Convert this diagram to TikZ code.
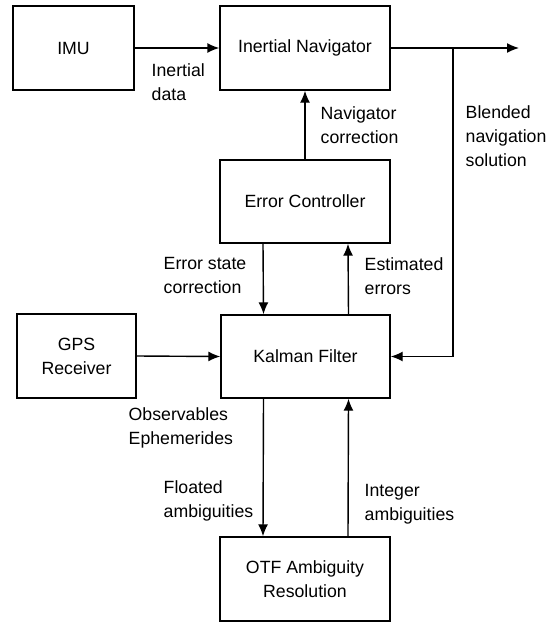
\documentclass[tikz,border=0pt]{standalone}
\usepackage{fontspec}
\setmainfont{Liberation Sans}
\usetikzlibrary{arrows.meta}
\usetikzlibrary{calc}

\begin{document}
\begin{tikzpicture}[x=1pt,y=-1pt,line width=1.4pt,
  blk/.style={draw,minimum width=170pt,minimum height=84pt,align=center,font=\fontsize{17.7}{24}\selectfont},
  lbl/.style={anchor=west,align=left,inner sep=0pt,font=\fontsize{17.7}{24}\selectfont},
  flow/.style={-{Latex[length=12pt,width=10pt]}}]
\useasboundingbox (0,0) rectangle (548,624);
%% blocks
\node[blk,minimum width=121pt] (imu) at (73.5,48) {IMU};
\node[blk] (nav) at (305,48) {Inertial Navigator};
\node[blk,minimum height=83pt] (ctrl) at (305,201.5) {Error Controller};
\node[blk,minimum width=169pt,minimum height=83pt] (kf) at (305.5,356.5) {Kalman Filter};
\node[blk,minimum width=119pt] (gps) at (76.5,356) {GPS\\Receiver};
\node[blk] (otf) at (305,579) {OTF Ambiguity\\Resolution};
\coordinate (out) at (519,48);
\coordinate (split) at (453,48);
%% connectors
\draw[flow] (imu.east) -- (nav.west);
\draw[flow] (nav.east) -- (out);
\draw[flow] (split) |- (kf.east);
\draw[flow] (ctrl.north) -- (nav.south);
\draw[flow] ([xshift=-42pt]ctrl.south) -- ([xshift=-42pt]kf.north);
\draw[flow] ([xshift=43pt]kf.north) -- ([xshift=43pt]ctrl.south);
\draw[flow] (gps.east) -- (kf.west);
\draw[flow] ([xshift=-42pt]kf.south) -- ([xshift=-42pt]otf.north);
\draw[flow] ([xshift=43pt]otf.north) -- ([xshift=43pt]kf.south);
%% labels
\node[lbl] (l1) at (151,82) {Inertial\\data};
\node[lbl] (l2) at (320,125) {Navigator\\correction};
\node[lbl] (l3) at (465,136) {Blended\\navigation\\solution};
\node[lbl] (l4) at (163,275) {Error state\\correction};
\node[lbl] (l5) at (364,276) {Estimated\\errors};
\node[lbl] (l6) at (128,428) {Observables\\Ephemerides};
\node[lbl] (l7) at (163,501) {Floated\\ambiguities};
\node[lbl] (l8) at (364,504) {Integer\\ambiguities};
\end{tikzpicture}
\end{document}
